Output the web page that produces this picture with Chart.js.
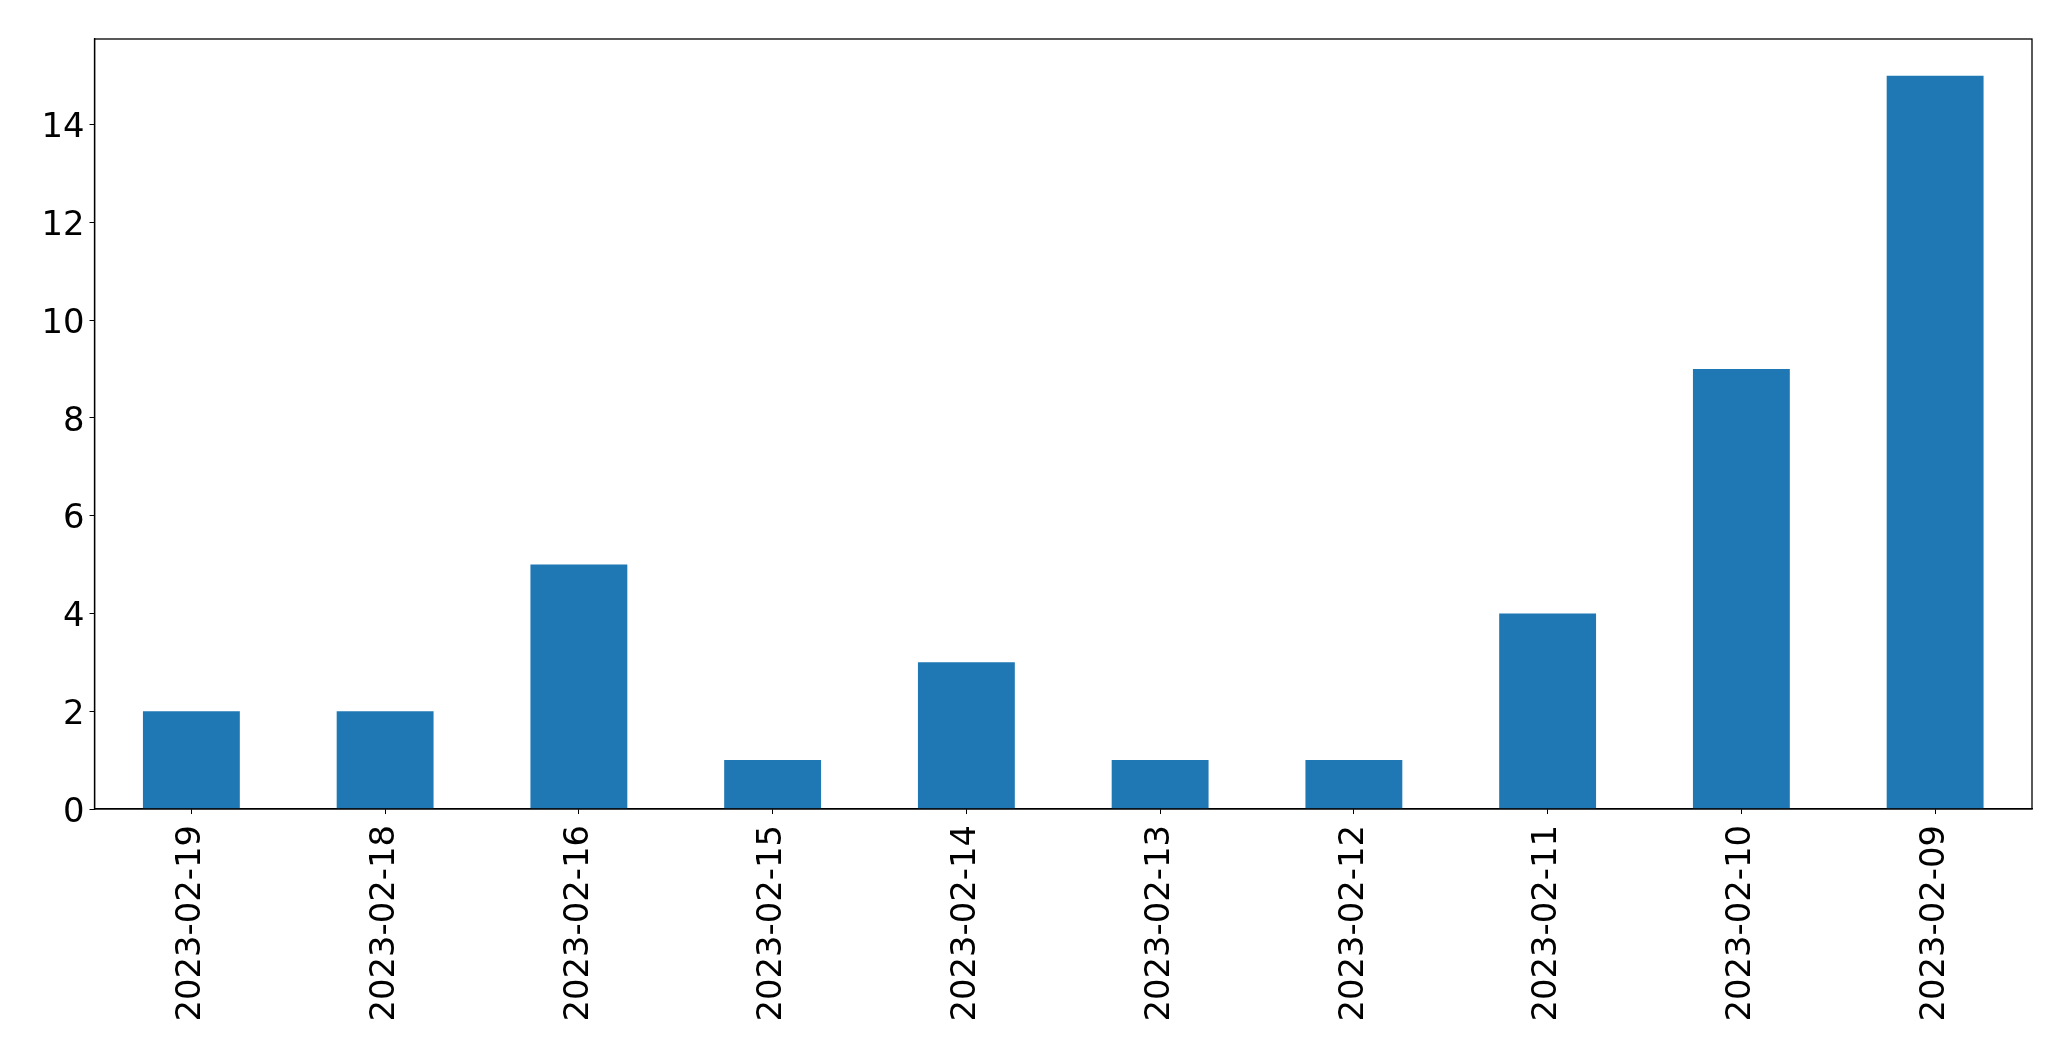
<!DOCTYPE html>
<html>
<head>
<meta charset="utf-8">
<script src="https://cdn.jsdelivr.net/npm/chart.js@4/dist/chart.umd.min.js"></script>
<style>
  html, body { margin: 0; padding: 0; background: #fff; }
  #wrap { width: 2071px; height: 1061px; }
</style>
</head>
<body>
<div id="wrap"><canvas id="chart" width="2071" height="1061"></canvas></div>
<script>
// dates on the x axis, in the order they appear
var dates = ['2023-02-19', '2023-02-18', '2023-02-16', '2023-02-15', '2023-02-14',
             '2023-02-13', '2023-02-12', '2023-02-11', '2023-02-10', '2023-02-09'];
// count per date
var counts = [2, 2, 5, 1, 3, 1, 1, 4, 9, 15];
var yTicks = [0, 2, 4, 6, 8, 10, 12, 14];

// box around the plot area (matplotlib style)
var frame = {
    id: 'frame',
    afterDraw: function(chart) {
        var a = chart.chartArea, ctx = chart.ctx;
        ctx.save();
        ctx.strokeStyle = '#000';
        ctx.lineWidth = 1.3;
        ctx.strokeRect(a.left, a.top, a.right - a.left, a.bottom - a.top);
        ctx.restore();
    }
};

var font = { family: 'DejaVu Sans', size: 33.8 };

new Chart(document.getElementById('chart').getContext('2d'), {
    type: 'bar',
    data: {
        labels: dates,
        datasets: [{
            data: counts,
            backgroundColor: '#1f77b4',
            borderWidth: 0,
            barPercentage: 0.5,
            categoryPercentage: 1.0
        }]
    },
    options: {
        responsive: false,
        animation: false,
        layout: { padding: { top: 39, right: 39, left: 0, bottom: 0 } },
        plugins: { legend: { display: false }, tooltip: { enabled: false } },
        scales: {
            x: {
                offset: true,
                grid: { display: true, drawOnChartArea: false, color: '#000', tickLength: 5, offset: false },
                border: { color: '#000', width: 1.3 },
                ticks: { color: '#000', font: font, minRotation: 90, maxRotation: 90, padding: 11, autoSkip: false },
                afterFit: function(s) { s.height = 1061 - 809; }
            },
            y: {
                min: 0,
                max: 15.75,
                grid: { display: true, drawOnChartArea: false, color: '#000', tickLength: 5 },
                border: { color: '#000', width: 1.3 },
                ticks: { color: '#000', font: font, stepSize: 2, padding: 5, labelOffset: 4 },
                afterBuildTicks: function(s) {
                    s.ticks = yTicks.map(function(v) { return { value: v }; });
                },
                afterFit: function(s) { s.width = 94.5; }
            }
        }
    },
    plugins: [frame]
});
</script>
</body>
</html>
